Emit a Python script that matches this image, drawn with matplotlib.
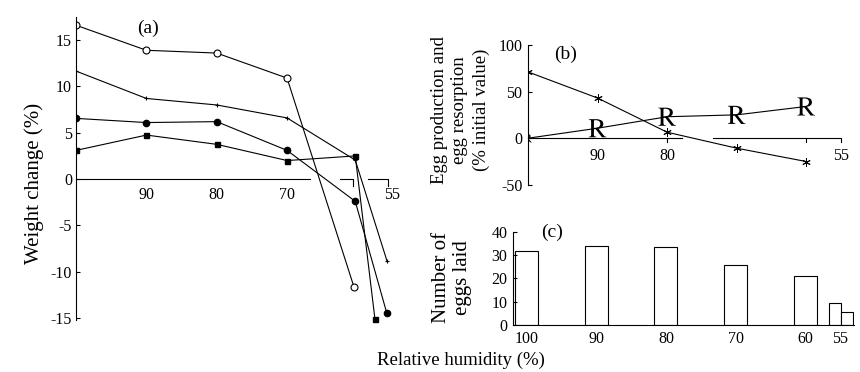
import matplotlib
matplotlib.use('Agg')
import matplotlib.pyplot as plt
from matplotlib import rcParams

rcParams['font.family'] = ['Liberation Serif', 'DejaVu Serif']
rcParams['mathtext.fontset'] = 'stix'
rcParams['axes.unicode_minus'] = False

# panel (a): weight change (%) against relative humidity
rh_open = [100, 90, 80, 70, 60.5]
wc_open = [16.6, 13.9, 13.6, 10.9, -11.6]
rh_plus = [100, 90, 80, 70, 60.3, 55.8]
wc_plus = [11.65, 8.7, 8.0, 6.6, 2.05, -8.8]
rh_filled = [100, 90, 80, 70, 60.3, 55.8]
wc_filled = [6.55, 6.1, 6.2, 3.1, -2.4, -14.5]
rh_square = [100, 90, 80, 70, 60.3, 57.5]
wc_square = [3.1, 4.75, 3.75, 2.0, 2.5, -15.1]
a_xticks = [90, 80, 70, 55]
a_yticks = [15, 10, 5, 0, -5, -10, -15]

# panel (b): egg production (*) and egg resorption (R), % initial value
rh_b = [100, 90, 80, 70, 60]
egg_prod = [71, 43, 6.4, -10.7, -25]
egg_resorp = [0, 10.7, 23, 25, 34]
b_xticks = [90, 80, 55]
b_yticks = [100, 50, 0, -50]

# panel (c): number of eggs laid
rh_c = [100, 90, 80, 70, 60, 55.8, 54.1]
eggs_laid = [31.7, 34.1, 33.6, 25.7, 21.0, 9.3, 5.7]
bar_w = [3.3, 3.3, 3.3, 3.3, 3.3, 1.65, 1.75]
c_xticks = [100, 90, 80, 70, 60, 55]
c_yticks = [0, 10, 20, 30, 40]

lw = 0.8
fs_tick = 11.5
fs_panel = 14

fig = plt.figure(figsize=(8.6, 3.72), dpi=100)

# ---------------- (a)
axa = fig.add_axes([0.0885, 0.1325, 0.372, 0.822])
axa.plot(rh_open, wc_open, '-o', color='k', lw=lw, ms=5, mfc='white', mew=0.8)
axa.plot(rh_plus, wc_plus, '-+', color='k', lw=lw, ms=3.5, mew=0.8)
axa.plot(rh_filled, wc_filled, '-o', color='k', lw=lw, ms=4.5)
axa.plot(rh_square, wc_square, '-s', color='k', lw=lw, ms=3.6)
axa.set_xlim(100, 54.5)
axa.set_ylim(-15.5, 17.5)
for s in ['top', 'right']:
    axa.spines[s].set_visible(False)
axa.spines['left'].set_bounds(-15.2, 17.5)
axa.spines['bottom'].set_position(('data', 0))
axa.spines['bottom'].set_bounds(100, 66.7)
for s in ['left', 'bottom']:
    axa.spines[s].set_linewidth(lw)
# broken x axis pieces
for x0, x1 in [(62.4, 60.6), (58.5, 55.7)]:
    axa.plot([x0, x1, x1], [0, 0, -0.8], color='k', lw=lw, clip_on=False)
axa.set_xticks(a_xticks)
axa.set_yticks(a_yticks)
axa.tick_params(axis='x', length=0, pad=6, labelsize=fs_tick)
axa.tick_params(axis='y', direction='in', length=3, width=lw, pad=3, labelsize=fs_tick)
axa.text(0.225, 0.964, '(a)', transform=axa.transAxes, fontsize=fs_panel,
         ha='center', va='center')

# ---------------- (b)
axb = fig.add_axes([0.614, 0.498, 0.372, 0.394])
axb.plot(rh_b, egg_prod, '-', color='k', lw=lw, marker=(6, 2, 0), ms=6, mew=0.7)
axb.plot(rh_b, egg_resorp, '-', color='k', lw=lw)
axb.scatter(rh_b, egg_resorp, s=[35] + [170] * 4, marker=r'$\mathrm{R}$',
            color='k', linewidths=0, zorder=3)
axb.set_xlim(100, 54)
axb.set_ylim(-52, 105)
for s in ['top', 'right']:
    axb.spines[s].set_visible(False)
axb.spines['left'].set_bounds(-50, 100)
axb.spines['bottom'].set_position(('data', 0))
axb.spines['bottom'].set_bounds(100, 77.8)
for s in ['left', 'bottom']:
    axb.spines[s].set_linewidth(lw)
axb.plot([73.4, 55, 55], [0, 0, -4], color='k', lw=lw, clip_on=False)
axb.plot([60, 60], [0, -4], color='k', lw=lw)
axb.plot([80, 80], [0, -4], color='k', lw=lw)
axb.set_xticks(b_xticks)
axb.set_yticks(b_yticks)
axb.tick_params(axis='x', length=0, pad=7, labelsize=fs_tick)
axb.tick_params(axis='y', direction='in', length=3, width=lw, pad=4, labelsize=fs_tick)
axb.text(0.116, 0.906, '(b)', transform=axb.transAxes, fontsize=fs_panel,
         ha='center', va='center')

# ---------------- (c)
axc = fig.add_axes([0.5965, 0.1263, 0.397, 0.257])
axc.bar(rh_c, eggs_laid, width=bar_w, color='white', edgecolor='k', linewidth=lw)
axc.set_xlim(101.9, 53.0)
axc.set_ylim(0, 41)
for s in ['top', 'right']:
    axc.spines[s].set_visible(False)
axc.spines['left'].set_bounds(0, 40)
for s in ['left', 'bottom']:
    axc.spines[s].set_linewidth(lw)
axc.set_xticks(c_xticks)
axc.set_yticks(c_yticks)
axc.tick_params(axis='x', length=0, pad=4, labelsize=fs_tick)
axc.tick_params(axis='y', direction='in', length=3, width=lw, pad=4, labelsize=fs_tick)
axc.text(0.114, 0.97, '(c)', transform=axc.transAxes, fontsize=fs_panel,
         ha='center', va='center')

# axis titles
fig.text(0.0395, 0.508, 'Weight change (%)', rotation=90, fontsize=15,
         ha='center', va='center')
fig.text(0.535, 0.704, 'Egg production and\negg resorption\n(% initial value)',
         rotation=90, fontsize=13.5, ha='center', va='center', ma='center',
         linespacing=1.3)
fig.text(0.5256, 0.255, 'Number of\neggs laid', rotation=90, fontsize=15,
         ha='center', va='center', ma='center', linespacing=1.2)
fig.text(0.536, 0.032, 'Relative humidity (%)', fontsize=13.5,
         ha='center', va='center')

fig.savefig('out.png', dpi=100)
